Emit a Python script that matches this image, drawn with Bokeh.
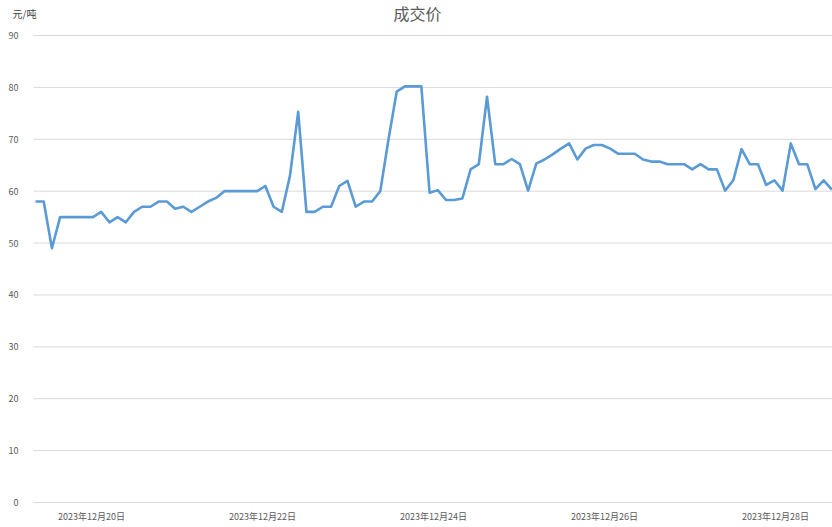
from bokeh.plotting import figure
from bokeh.models import ColumnDataSource, Range1d, FixedTicker, Label
from bokeh.embed import file_html
from bokeh.resources import INLINE

# ---- data ----
title_text = "成交价"
unit_text = "元/吨"
prices = [
    58, 58, 49, 55, 55, 55, 55, 55, 56, 54,
    55, 54, 56, 57, 57, 58, 58, 56.6, 57, 56,
    57, 58, 58.7, 60, 60, 60, 60, 60, 61, 57,
    56, 63, 75.3, 56, 56, 57, 57, 61, 62, 57,
    58, 58, 60, 70, 79.2, 80.2, 80.2, 80.2, 59.7, 60.2,
    58.3, 58.3, 58.6, 64.2, 65.2, 78.2, 65.2, 65.2, 66.2, 65.2,
    60.1, 65.3, 66.1, 67.1, 68.2, 69.2, 66.1, 68.2, 68.9, 68.9,
    68.2, 67.2, 67.2, 67.2, 66.1, 65.7, 65.7, 65.2, 65.2, 65.2,
    64.2, 65.2, 64.2, 64.2, 60.1, 62.1, 68.1, 65.2, 65.2, 61.2,
    62.1, 60.1, 69.2, 65.2, 65.2, 60.4, 62.1, 60.3,
]
date_labels = ["2023年12月20日", "2023年12月22日", "2023年12月24日",
               "2023年12月26日", "2023年12月28日"]
y_ticks = [0, 10, 20, 30, 40, 50, 60, 70, 80, 90]

# ---- layout constants ----
label_pos = [6.82, 27.65, 48.48, 69.31, 90.13]
X_START = -4.263      # left edge of the canvas (data units)
AXIS_X = -0.244       # where the value axis / grid lines begin
X_END = 97.08
Y_BOTTOM = -4.818     # leaves room below 0 for the date labels
Y_TOP = 96.745        # leaves room above 90 for title and unit

idx = list(range(len(prices)))
src = ColumnDataSource(dict(x=idx, y=prices))
grid_src = ColumnDataSource(dict(x0=[AXIS_X] * len(y_ticks), x1=[X_END] * len(y_ticks),
                                 y=y_ticks))

FONT = "Noto Sans CJK SC"
GREY = "#595959"

p = figure(width=832, height=527, output_backend="svg", toolbar_location=None,
           x_range=Range1d(X_START, X_END), y_range=Range1d(Y_BOTTOM, Y_TOP),
           min_border_left=0, min_border_right=0, min_border_top=0,
           min_border_bottom=0)
p.outline_line_color = None
p.background_fill_color = "white"
p.border_fill_color = "white"
p.xgrid.grid_line_color = None
p.ygrid.grid_line_color = None

# horizontal grid lines starting at the value axis
p.segment(x0="x0", y0="y", x1="x1", y1="y", source=grid_src,
          line_color="#d9d9d9", line_width=1)

p.line("x", "y", source=src, line_color="#5b9bd5", line_width=2.6,
       line_join="round")

# y axis (fixed inside the canvas)
p.yaxis.fixed_location = AXIS_X
p.yaxis.ticker = FixedTicker(ticks=y_ticks)
p.yaxis.axis_line_color = None
p.yaxis.major_tick_line_color = None
p.yaxis.minor_tick_line_color = None
p.yaxis.major_label_standoff = 9
p.yaxis.major_label_text_font = FONT
p.yaxis.major_label_text_font_size = "9px"
p.yaxis.major_label_text_color = GREY

# x axis (fixed at value 0)
p.xaxis.fixed_location = 0
p.xaxis.ticker = FixedTicker(ticks=label_pos)
p.xaxis.major_label_overrides = {pos: lab for pos, lab in zip(label_pos, date_labels)}
p.xaxis.axis_line_color = None
p.xaxis.major_tick_line_color = None
p.xaxis.minor_tick_line_color = None
p.xaxis.major_label_standoff = 2
p.xaxis.major_label_text_font = FONT
p.xaxis.major_label_text_font_size = "9px"
p.xaxis.major_label_text_color = GREY

# title and unit label (screen units relative to the plot frame)
p.add_layout(Label(x=417, y=527, x_units="screen", y_units="screen",
                   text=title_text, text_font=FONT, text_font_size="16px",
                   text_color=GREY, text_align="center", text_baseline="top"))
p.add_layout(Label(x=12, y=514, x_units="screen", y_units="screen",
                   text=unit_text, text_font=FONT, text_font_size="10px",
                   text_color="#404040", text_align="left", text_baseline="middle"))

open("out.html", "w").write(file_html(p, INLINE))
